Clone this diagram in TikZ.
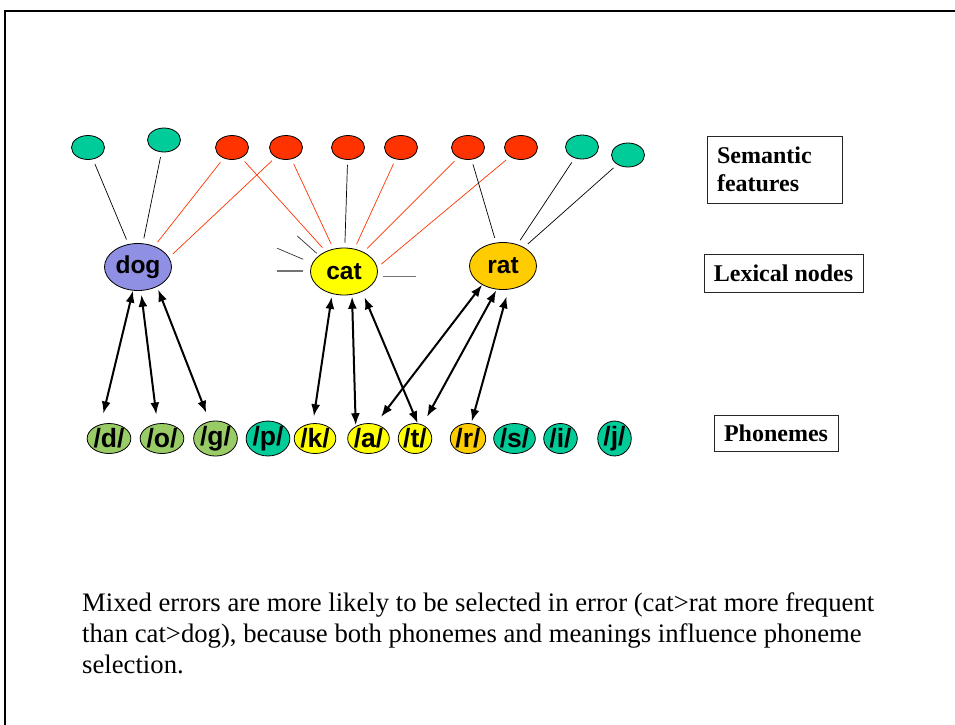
\documentclass[tikz,border=0pt]{standalone}
\usepackage{fontspec}
\setmainfont{Liberation Serif}
\newfontfamily\arialfont{Liberation Sans}
\usetikzlibrary{shapes.geometric,arrows.meta,calc}
\definecolor{FeatTeal}{HTML}{00CC99}
\definecolor{FeatRed}{HTML}{FF3300}
\definecolor{DogBlue}{HTML}{8F8FE3}
\definecolor{CatYellow}{HTML}{FFFF00}
\definecolor{RatGold}{HTML}{FFCC00}
\definecolor{PhonGreen}{HTML}{99CC66}

\begin{document}
\begin{tikzpicture}[x=1pt, y=-1pt,
  feat/.style={ellipse, draw=black, line width=0.8pt, minimum width=33pt, minimum height=24pt, inner sep=0pt},
  lex/.style={ellipse, draw=black, line width=0.8pt, minimum width=67pt, minimum height=47pt, inner sep=0pt,
              font=\arialfont\bfseries\fontsize{24.5}{24}\selectfont},
  phon/.style={ellipse, draw=black, line width=0.8pt, minimum width=33.5pt, minimum height=30pt, inner sep=0pt,
               font=\arialfont\bfseries\fontsize{26.5}{26}\selectfont},
  tag/.style={draw=black!85, line width=0.8pt, inner sep=0pt, font=\bfseries\fontsize{24}{28}\selectfont},
  wire/.style={line width=0.7pt, shorten <=5pt, shorten >=5pt},
  stub/.style={line width=0.7pt},
  link/.style={{Latex[length=12pt,width=9pt]}-{Latex[length=12pt,width=9pt]}, line width=2pt}]
  \useasboundingbox (0,0) rectangle (955,724);
  \draw[line width=2pt] (4.5,730) |- (960,11);

  % semantic features
  \foreach \n/\x/\y/\c in {1/88/147.5/FeatTeal, 2/164/140/FeatTeal, 3/232/147.5/FeatRed, 4/286/147.5/FeatRed,
      5/348/147.5/FeatRed, 6/401/147.5/FeatRed, 7/468/147.5/FeatRed, 8/521/147.5/FeatRed,
      9/582/147/FeatTeal, 10/628/155/FeatTeal}
    \node[feat, fill=\c] (f\n) at (\x,\y) {};

  % lexical nodes
  \node[lex, fill=DogBlue] (dog) at (138,267) {dog};
  \node[lex, fill=CatYellow] (cat) at (344,271.5) {cat};
  \node[lex, fill=RatGold] (rat) at (503,266) {rat};

  % phonemes
  \foreach \n/\x/\c in {d/109/PhonGreen, o/162/PhonGreen, g/215.5/PhonGreen, p/268/FeatTeal,
      k/315/CatYellow, a/368.5/CatYellow, t/415/CatYellow, r/468/RatGold,
      s/514.5/FeatTeal, i/560.5/FeatTeal, j/614.5/FeatTeal}
    \node[phon, fill=\c] (ph\n) at (\x,438.5) {/\n/};

  \foreach \f/\w/\c in {f1/dog/black, f2/dog/black, f3/dog/FeatRed, f3/cat/FeatRed,
      f4/dog.17/FeatRed, f4/cat/FeatRed, f5/cat/black, f6/cat/FeatRed, f7/cat/FeatRed,
      f8/cat.7/FeatRed, f7/rat/black, f9/rat/black, f10/rat/black}
    \draw[wire, \c] (\f) -- (\w);

  % loose ends of cat
  \draw[stub, black!80] ($(cat)+(-46.7,-35.5)$) -- ($(cat)+(-27.3,-18.2)$);
  \draw[stub, black!80] ($(cat)+(-66.7,-23.2)$) -- ($(cat)+(-40.7,-12.2)$);
  \draw[stub, black!55, line width=1.2pt] ($(cat)+(-66.7,-0.5)$) -- ($(cat)+(-40.7,-0.5)$);
  \draw[stub, black!55, line width=1.2pt] ($(cat)+(39.3,5.2)$) -- ($(cat)+(72,5.2)$);

  \foreach \w/\wa/\p/\pa/\sw/\sp in {dog/258/phd/120/0/11, dog/277/pho/107/4/9, dog/314/phg/109/3/9,
      cat/242/phk/98/3/7, cat/289/pha/136/2/1, cat/312/pht/80/6/0,
      rat/222/pha/64/0/9, rat/255/pht/61/1/9, rat/283/phr/78/7/2}
    \draw[link, shorten <=\sw pt, shorten >=\sp pt] (\w.\wa) -- (\p.\pa);

  \node[tag, minimum width=135pt, minimum height=67pt, text width=115pt, align=left] (semtag) at (774.5,169.5) {Semantic\\features};
  \node[tag, minimum width=159pt, minimum height=38pt] (lextag) at (783.5,273) {Lexical nodes};
  \node[tag, minimum width=124pt, minimum height=36pt] (phontag) at (776,433) {Phonemes};

  \node[anchor=north west, align=left, inner sep=0pt, font=\fontsize{26.7}{31}\selectfont] (note) at (82,592)
    {Mixed errors are more likely to be selected in error (cat>rat more frequent\\
     than cat>dog), because both phonemes and meanings influence phoneme\\
     selection.};
\end{tikzpicture}
\end{document}
